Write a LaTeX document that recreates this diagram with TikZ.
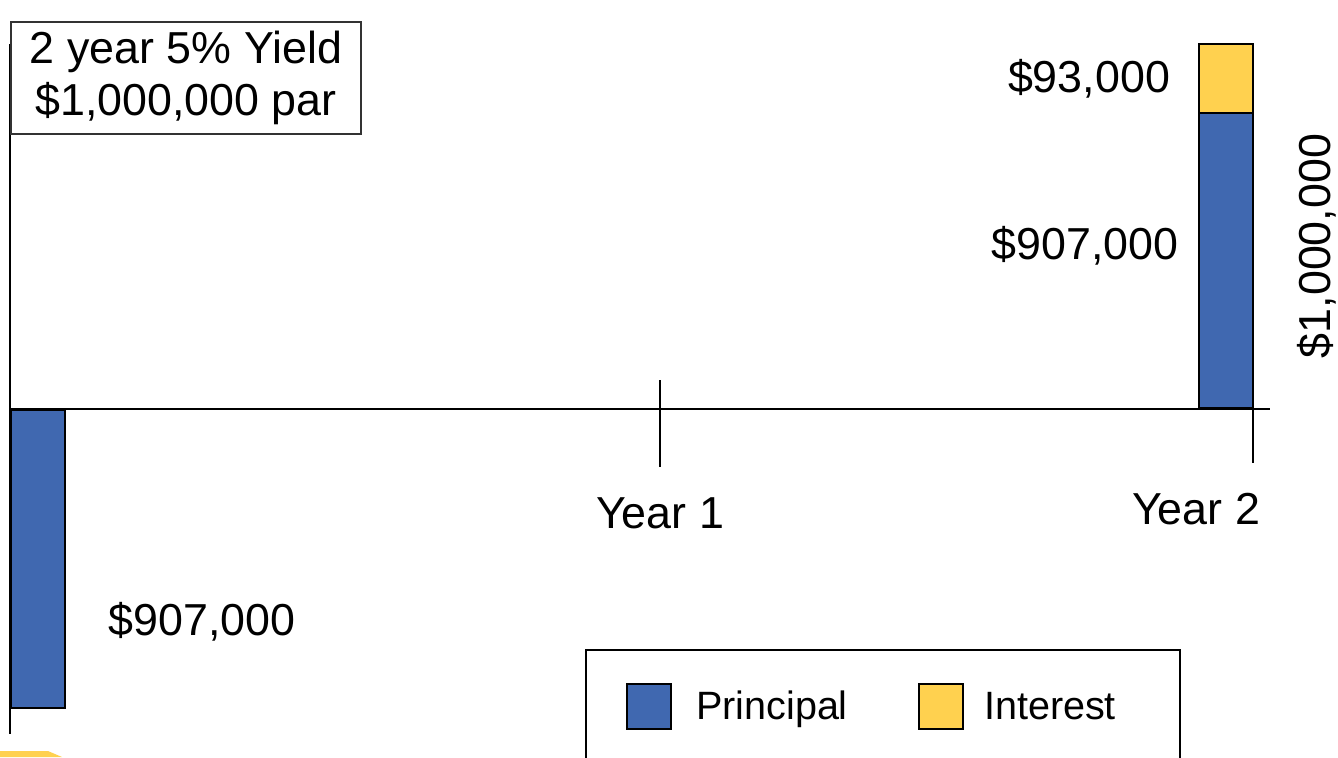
\documentclass[tikz,border=0pt]{standalone}
\usepackage{fontspec}
\setmainfont{Liberation Sans}
\usepackage{tikz}
\definecolor{principalblue}{HTML}{4068B0}
\definecolor{interestyellow}{HTML}{FFD14F}
\tikzset{
	lbl/.style={anchor=base, inner sep=0pt, font=\fontsize{25.5}{30}\selectfont},
	keylbl/.style={lbl, font=\fontsize{22.5}{27}\selectfont},
	principal/.style={fill=principalblue, draw=black, line width=1.4pt},
	interest/.style={fill=interestyellow, draw=black, line width=1.4pt},
	axisline/.style={line width=1.2pt, color=black}
}

\begin{document}
\begin{tikzpicture}[x=0.02cm, y=-0.02cm]
		%%%%% START %%%%%
		\clip (0, 0) rectangle (1338, 757);
		
		% axes
		\draw[axisline] (10, 44) -- (10, 734);
		\draw[axisline] (10, 409) -- (1270, 409);
		\draw[axisline] (660, 380) -- (660, 467);
		\draw[axisline] (1253, 377) -- (1253, 463);
		
		% title box
		\node[draw=black!80, line width=1.1pt, fill=white, align=center, minimum width=7cm, minimum height=2.24cm, inner sep=0pt, font=\fontsize{25.5}{30}\selectfont] (title) at (186, 78) {2 year 5\% Yield\\\$1,000,000 par};
		
		% bars
		\draw[principal] (11, 410) rectangle (65, 708);
		\draw[principal] (1199, 113) rectangle (1253, 408);
		\draw[interest] (1199, 44) rectangle (1253, 113);
		
		% amounts
		\node[lbl] (interestamt) at (1089, 92) {\$93,000};
		\node[lbl] (principalamt) at (1085, 259) {\$907,000};
		\node[lbl] (priceamt) at (202, 635) {\$907,000};
		\node[lbl, rotate=90] (total) at (1330, 246) {\$1,000,000};
		
		% years
		\node[lbl] (year1) at (660, 528) {Year 1};
		\node[lbl] (year2) at (1196, 524) {Year 2};
		
		% legend
		\draw[line width=1.4pt] (586, 780) -- (586, 650) -- (1180, 650) -- (1180, 780);
		\draw[principal, line width=1.1pt] (627, 684) rectangle (671, 729);
		\draw[interest, line width=1.1pt] (919, 684) rectangle (963, 729);
		\node[keylbl] (principallbl) at (772, 719) {Principal};
		\node[keylbl] (interestlbl) at (1050, 719) {Interest};
		
		\fill[interestyellow] (0, 751) -- (48, 751) -- (62, 757) -- (0, 757) -- cycle;
		%%%%% END %%%%%
	\end{tikzpicture}
\end{document}
